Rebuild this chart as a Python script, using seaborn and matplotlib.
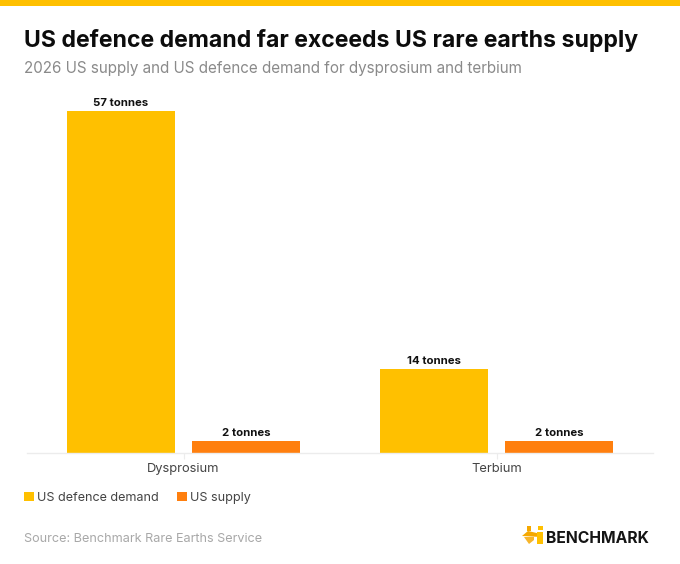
import pandas as pd
import matplotlib
matplotlib.use('Agg')
import matplotlib.pyplot as plt
from matplotlib.patches import Rectangle, Polygon
import seaborn as sns

# values
metals = ['Dysprosium', 'Terbium']
demand = [57, 14]
supply = [2, 2]
series_names = ['US defence demand', 'US supply']
bar_colors = ['#FFC000', '#FF7F0E']

title = 'US defence demand far exceeds US rare earths supply'
subtitle = '2026 US supply and US defence demand for dysprosium and terbium'
source = 'Source: Benchmark Rare Earths Service'

df = pd.DataFrame({
    'metal': metals * 2,
    'series': [series_names[0]] * 2 + [series_names[1]] * 2,
    'tonnes': demand + supply,
})

sns.set_theme(style='white')
plt.rcParams['font.family'] = ['Inter', 'DejaVu Sans']

W, H = 680, 564
fig = plt.figure(figsize=(W / 100, H / 100), dpi=100)
ax = fig.add_axes([27 / W, 1 - 453 / H, 626 / W, 360 / H])

sns.barplot(data=df, x='metal', y='tonnes', hue='series', palette=bar_colors,
            width=0.8, gap=0.136, saturation=1, linewidth=0, edgecolor='none', ax=ax)
ax.set_ylim(0, 60)
ax.set_xlabel('')
ax.set_ylabel('')
ax.set_yticks([])
sns.despine(ax=ax, left=True)
ax.spines['bottom'].set_color('#ececec')
ax.spines['bottom'].set_linewidth(1)
ax.tick_params(axis='x', length=4, width=0.8, color='#ececec', labelcolor='#444444',
               labelsize=9.3, pad=3.5, direction='out', bottom=True)

for cont in ax.containers:
    ax.bar_label(cont, labels=['%d tonnes' % v for v in cont.datavalues],
                 fontsize=8.2, fontweight='bold', color='#111111', padding=2)

sns.move_legend(ax, 'lower left', bbox_to_anchor=(24 / W, 1 - 504 / H),
                bbox_transform=fig.transFigure, ncol=2, frameon=False, title=None,
                fontsize=9.05, handlelength=0.8, handleheight=0.8, handletextpad=0.2,
                columnspacing=1.5, borderpad=0, borderaxespad=0)
for t in ax.get_legend().get_texts():
    t.set_color('#444444')

# top band
fig.add_artist(Rectangle((0, 1 - 6 / H), 1, 6 / H, transform=fig.transFigure,
                         color='#FFC000', lw=0))

fig.text(24 / W, 1 - 47 / H, title, fontsize=16.6, fontweight='bold', color='#0c0c0c', va='baseline')
fig.text(24 / W, 1 - 73 / H, subtitle, fontsize=10.95, color='#8a8a8a', va='baseline')
fig.text(24 / W, 1 - 542 / H, source, fontsize=9.1, color='#a8a8a8', va='baseline')

# logo
fig.text(546 / W, 1 - 543 / H, 'BENCHMARK', fontsize=11.3, fontweight='bold', color='#151515', va='baseline')
tr = fig.transFigure
fig.add_artist(Polygon([(x / W, 1 - y / H) for x, y in [(522, 536), (528, 531), (541, 534), (541, 537)]],
                       transform=tr, color='#F5A800', lw=0))
fig.add_artist(Polygon([(x / W, 1 - y / H) for x, y in [(524, 537), (534, 537), (534, 540), (529, 544)]],
                       transform=tr, color='#F7B52A', lw=0))
fig.add_artist(Rectangle((537 / W, 1 - 544 / H), 6 / W, 12 / H, transform=tr, color='#FFC000', lw=0))
fig.add_artist(Rectangle((527 / W, 1 - 531 / H), 4 / W, 5 / H, transform=tr, color='#F5A800', lw=0))
fig.add_artist(Rectangle((538 / W, 1 - 530 / H), 5 / W, 4 / H, transform=tr, color='#FFC000', lw=0))

fig.savefig('out.png', dpi=100)
